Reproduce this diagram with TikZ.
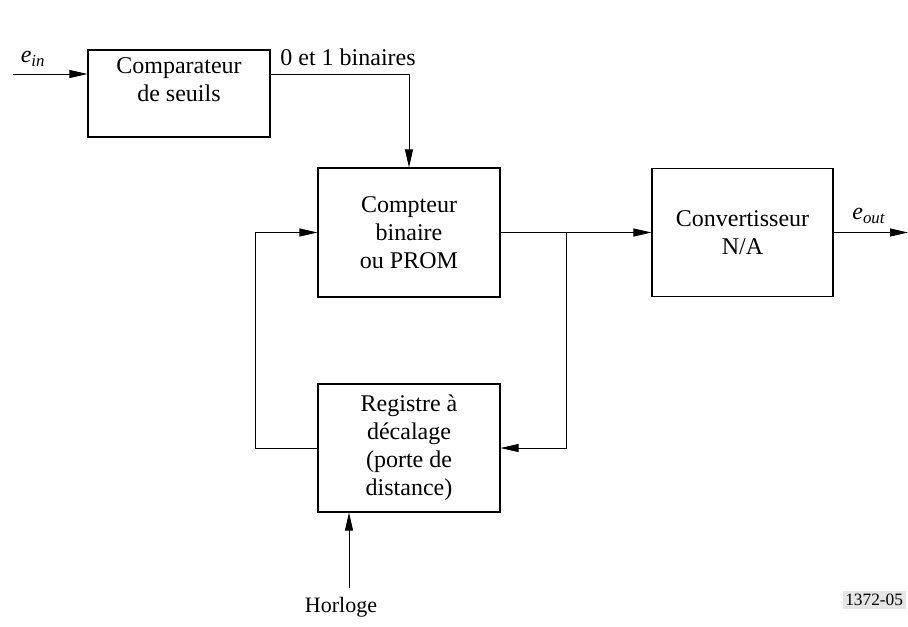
\documentclass[tikz,border=0pt]{standalone}
\usepackage{fontspec}
\setmainfont{Liberation Serif}
\usetikzlibrary{arrows.meta,positioning}

\tikzset{
  blk/.style={draw, line width=0.8pt, minimum width=136.5pt, minimum height=96pt,
    inner sep=0pt, align=center, font=\fontsize{18}{21}\selectfont},
  arr/.style={line width=0.65pt, -{Triangle[length=13.5pt,width=6pt]}},
  lbl/.style={inner sep=0pt, font=\fontsize{18}{21}\selectfont}
}
\newcommand{\sig}[1]{\textit{e}\textsubscript{\textit{#1}}}

\begin{document}
\begin{tikzpicture}[x=0.75pt,y=-0.75pt]
    \useasboundingbox (0,0) rectangle (908,626);

    % Blocks
    \node[blk, minimum height=65.25pt] (cmp) at (179,93.5) {Comparateur\\de seuils\\\mbox{}};
    \node[blk, minimum height=96.75pt] (cnt) at (409,232.5) {Compteur\\binaire\\ou PROM};
    \node[blk, minimum width=135.75pt] (cnv) at (742.5,232.5) {Convertisseur\\N/A};
    \node[blk] (reg) at (409,448) {Registre à\\décalage\\(porte de\\distance)};

    % Free ends
    \coordinate (ein) at (13,74);
    \coordinate (eout) at (908,232.5);
    \coordinate (jn) at (566,232.5);
    \coordinate (fb) at (255,448);
    \coordinate (clk) at (349,588);

    % Input and comparator output
    \draw[arr] (ein) -- (ein -| cmp.west);
    \node[lbl] (einl) at (33,59) {\sig{in}};
    \draw[arr] (cmp.east |- ein) -| (cnt.north);
    \node[lbl] (bin) at (348,57) {0 et 1 binaires};

    % Counter to converter, output
    \draw[arr] (cnt.east) -- (cnv.west);
    \draw[arr] (cnv.east) -- (eout);
    \node[lbl] (eoutl) at (869,216) {\sig{out}};

    % Loop through the shift register
    \draw[arr] (jn) |- (reg.east);
    \draw[arr] (reg.west) -- (fb) |- (cnt.west);

    % Clock
    \draw[arr] (clk) -- (clk |- reg.south);
    \node[lbl, font=\fontsize{16.5}{19}\selectfont] (hor) at (341,607) {Horloge};

    \node[fill=black!10, inner sep=2pt, anchor=east, font=\fontsize{13}{15}\selectfont] (ref) at (906,600) {1372-05};
\end{tikzpicture}
\end{document}
